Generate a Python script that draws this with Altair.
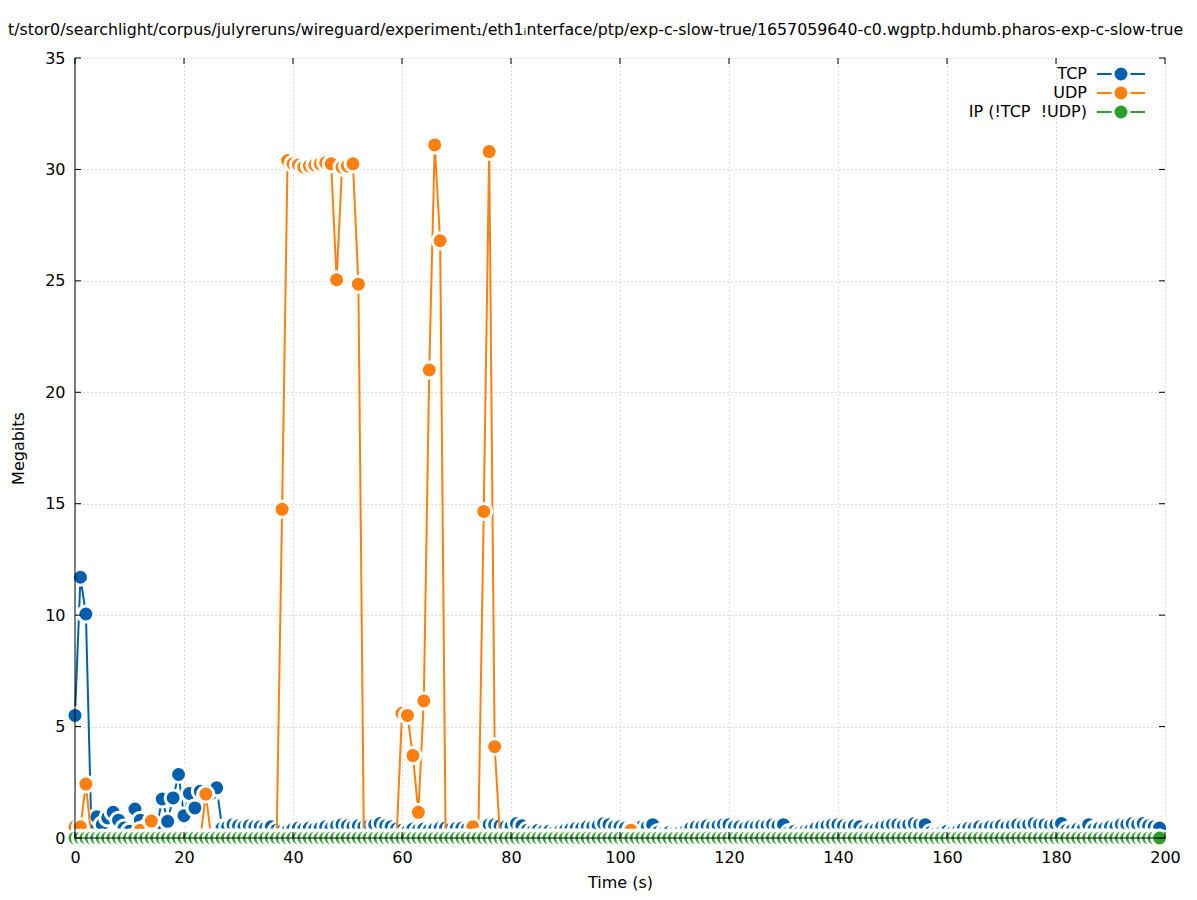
import altair as alt
import pandas as pd

# ---------------- data ----------------
seconds = list(range(200))

tcp = [
    5.5, 11.7, 10.05, 0.45, 0.95, 0.6, 0.9, 1.15, 0.8, 0.45,
    0.3, 1.3, 0.8, 0.45, 0.4, 0.5, 1.75, 0.75, 1.8, 2.85,
    1.0, 2.0, 1.35, 2.1, 1.9, 2.0, 2.25, 0.45, 0.5, 0.6,
    0.55, 0.5, 0.55, 0.5, 0.5, 0.45, 0.5, 0.35, 0.3, 0.3,
    0.4, 0.45, 0.4, 0.45, 0.4, 0.45, 0.5, 0.45, 0.55, 0.6,
    0.55, 0.5, 0.55, 0.5, 0.55, 0.6, 0.65, 0.55, 0.5, 0.4,
    0.35, 0.3, 0.4, 0.35, 0.4, 0.35, 0.4, 0.45, 0.45, 0.4,
    0.45, 0.45, 0.4, 0.35, 0.4, 0.5, 0.6, 0.6, 0.55, 0.5,
    0.5, 0.65, 0.55, 0.35, 0.3, 0.35, 0.3, 0.3, 0.25, 0.3,
    0.35, 0.4, 0.45, 0.45, 0.5, 0.5, 0.55, 0.65, 0.6, 0.5,
    0.5, 0.45, 0.4, 0.45, 0.5, 0.5, 0.6, 0.25, 0.2, 0.25,
    0.2, 0.25, 0.3, 0.45, 0.5, 0.5, 0.55, 0.5, 0.55, 0.6,
    0.6, 0.5, 0.5, 0.45, 0.5, 0.5, 0.55, 0.55, 0.6, 0.55,
    0.6, 0.25, 0.3, 0.25, 0.3, 0.35, 0.45, 0.5, 0.55, 0.6,
    0.6, 0.55, 0.5, 0.55, 0.5, 0.35, 0.4, 0.4, 0.5, 0.55,
    0.6, 0.6, 0.55, 0.6, 0.65, 0.6, 0.6, 0.25, 0.2, 0.25,
    0.3, 0.25, 0.3, 0.4, 0.45, 0.45, 0.5, 0.45, 0.5, 0.5,
    0.55, 0.5, 0.55, 0.6, 0.55, 0.6, 0.65, 0.6, 0.6, 0.55,
    0.6, 0.65, 0.35, 0.35, 0.4, 0.4, 0.6, 0.4, 0.45, 0.45,
    0.5, 0.5, 0.6, 0.6, 0.65, 0.6, 0.65, 0.55, 0.5, 0.45,
]

udp = [
    0.5, 0.5, 2.42, 0, 0, 0, 0, 0, 0, 0,
    0, 0, 0.35, 0, 0.76, 0, 0, 0, 0, 0,
    0, 0, 0, 0, 1.97, 0, 0, 0, 0, 0,
    0, 0, 0, 0, 0, 0, 0, 0, 14.75, 30.4,
    30.25, 30.2, 30.1, 30.15, 30.2, 30.25, 30.3, 30.25, 25.05, 30.1,
    30.15, 30.25, 24.85, 0, 0, 0, 0, 0, 0, 0,
    5.6, 5.5, 3.7, 1.15, 6.15, 21.0, 31.1, 26.8, 0, 0,
    0, 0, 0, 0.5, 0.05, 14.65, 30.8, 4.1, 0, 0,
    0, 0, 0, 0, 0, 0, 0, 0, 0, 0,
    0, 0, 0, 0, 0, 0, 0, 0, 0, 0,
    0, 0, 0.35, 0, 0, 0, 0, 0, 0, 0,
    0, 0, 0, 0, 0, 0, 0, 0, 0, 0,
    0, 0, 0, 0, 0, 0, 0, 0, 0, 0,
    0, 0, 0, 0, 0, 0, 0, 0, 0, 0,
    0, 0, 0, 0, 0, 0, 0, 0, 0, 0,
    0, 0, 0, 0, 0, 0, 0, 0, 0, 0,
    0, 0, 0, 0, 0, 0, 0, 0, 0, 0,
    0, 0, 0, 0, 0, 0, 0, 0, 0, 0,
    0, 0, 0, 0, 0, 0, 0, 0, 0, 0,
    0, 0, 0, 0, 0, 0, 0, 0, 0, 0,
]

ip_other = [
    0, 0, 0, 0, 0, 0, 0, 0, 0, 0,
    0, 0, 0, 0, 0, 0, 0, 0, 0, 0,
    0, 0, 0, 0, 0, 0, 0, 0, 0, 0,
    0, 0, 0, 0, 0, 0, 0, 0, 0, 0,
    0, 0, 0, 0, 0, 0, 0, 0, 0, 0,
    0, 0, 0, 0, 0, 0, 0, 0, 0, 0,
    0, 0, 0, 0, 0, 0, 0, 0, 0, 0,
    0, 0, 0, 0, 0, 0, 0, 0, 0, 0,
    0, 0, 0, 0, 0, 0, 0, 0, 0, 0,
    0, 0, 0, 0, 0, 0, 0, 0, 0, 0,
    0, 0, 0, 0, 0, 0, 0, 0, 0, 0,
    0, 0, 0, 0, 0, 0, 0, 0, 0, 0,
    0, 0, 0, 0, 0, 0, 0, 0, 0, 0,
    0, 0, 0, 0, 0, 0, 0, 0, 0, 0,
    0, 0, 0, 0, 0, 0, 0, 0, 0, 0,
    0, 0, 0, 0, 0, 0, 0, 0, 0, 0,
    0, 0, 0, 0, 0, 0, 0, 0, 0, 0,
    0, 0, 0, 0, 0, 0, 0, 0, 0, 0,
    0, 0, 0, 0, 0, 0, 0, 0, 0, 0,
    0, 0, 0, 0, 0, 0, 0, 0, 0, 0,
]

series_names = ["TCP", "UDP", "IP (!TCP\u00a0\u00a0!UDP)"]
series_colors = ["#0060ad", "#ff7f0e", "#2ca02c"]
series_values = [tcp, udp, ip_other]

x_ticks = [0, 20, 40, 60, 80, 100, 120, 140, 160, 180, 200]
y_ticks = [0, 5, 10, 15, 20, 25, 30, 35]

title_text = ("t/stor0/searchlight/corpus/julyreruns/wireguard/experiment\u2081/eth1\u1d62nterface/ptp/"
              "exp-c-slow-true/1657059640-c0.wgptp.hdumb.pharos-exp-c-slow-true")

# ---------------- layout ----------------
W, H = 1090, 780
FONT = "DejaVu Sans"
FS = 16
x_scale = alt.Scale(domain=[0, 200], nice=False, zero=False)
y_scale = alt.Scale(domain=[0, 35], nice=False)

POINT_SIZE = 256
HALO = 3

x_axis = alt.Axis(values=x_ticks, grid=True, gridDash=[1, 3], gridColor="#b8b8b8",
                  domain=False, ticks=False, labelFontSize=FS, labelFont=FONT,
                  labelColor="black", labelPadding=11, labelFlush=False,
                  title="Time (s)", titleFont=FONT, titleFontSize=FS,
                  titleFontWeight="normal", titleColor="black",
                  titleX=545, titleY=49, titleBaseline="alphabetic")
y_axis = alt.Axis(values=y_ticks, grid=True, gridDash=[1, 3], gridColor="#b8b8b8",
                  domain=False, ticks=False, labelFontSize=FS, labelFont=FONT,
                  labelColor="black", labelPadding=10,
                  title="Megabits", titleFont=FONT, titleFontSize=FS,
                  titleFontWeight="normal", titleColor="black",
                  titleX=-57, titleY=390, titleBaseline="middle", titleAngle=270)


def X(field):
    return alt.X(field, scale=x_scale, axis=x_axis)


def Y(field):
    return alt.Y(field, scale=y_scale, axis=y_axis)


layers = []
for name, vals, color in zip(series_names, series_values, series_colors):
    df = pd.DataFrame({"t": seconds, "v": vals})
    base = alt.Chart(df)
    line = base.mark_line(color=color, strokeWidth=2).encode(
        x=X("t:Q"), y=Y("v:Q"), order="t:Q")
    pts = base.mark_point(shape="circle", filled=True, fill=color, stroke="white",
                          strokeWidth=HALO, size=POINT_SIZE, opacity=1,
                          fillOpacity=1, strokeOpacity=1).encode(
        x=X("t:Q"), y=Y("v:Q"))
    layers += [line, pts]

# ---------------- tick marks (inward, mirrored) ----------------
xt = alt.Chart(pd.DataFrame({"t": x_ticks}))
yt = alt.Chart(pd.DataFrame({"v": y_ticks}))
TL = 6
tick_bottom = xt.mark_rule(color="black", strokeWidth=1).encode(
    x=X("t:Q"), y=alt.value(H), y2=alt.value(H - TL))
tick_top = xt.mark_rule(color="black", strokeWidth=1).encode(
    x=X("t:Q"), y=alt.value(0), y2=alt.value(TL))
tick_left = yt.mark_rule(color="black", strokeWidth=1).encode(
    y=Y("v:Q"), x=alt.value(0), x2=alt.value(TL))
tick_right = yt.mark_rule(color="black", strokeWidth=1).encode(
    y=Y("v:Q"), x=alt.value(W - TL), x2=alt.value(W))

one = alt.Chart(pd.DataFrame({"a": [0]}))
border_left = one.mark_rule(color="black", strokeWidth=1).encode(
    x=alt.value(0), y=alt.value(0), y2=alt.value(H))
border_bottom = one.mark_rule(color="black", strokeWidth=1).encode(
    x=alt.value(0), x2=alt.value(W), y=alt.value(H))

# ---------------- legend (gnuplot style key) ----------------
px_x = 200 / W
px_y = 35 / H
key_rows = []
for i, (name, color) in enumerate(zip(series_names, series_colors)):
    key_rows.append({"name": name, "color": color,
                     "v": 35 - (16 + 19 * i) * px_y,
                     "t": 1012 * px_x, "l2": 1070 * px_x,
                     "l1": 1022 * px_x, "pt": 1046 * px_x})
key = alt.Chart(pd.DataFrame(key_rows))
key_text = key.mark_text(align="right", baseline="middle", fontSize=FS, font=FONT,
                         color="black").encode(
    x=X("t:Q"), y=Y("v:Q"), text="name:N")
key_line = key.mark_rule(strokeWidth=2).encode(
    x=X("l1:Q"), x2="l2:Q", y=Y("v:Q"),
    color=alt.Color("color:N", scale=None, legend=None))
key_pt = key.mark_point(shape="circle", filled=True, stroke="white", strokeWidth=HALO,
                        size=POINT_SIZE, opacity=1, fillOpacity=1,
                        strokeOpacity=1).encode(
    x=X("pt:Q"), y=Y("v:Q"),
    fill=alt.Fill("color:N", scale=None, legend=None))

title_mark = one.mark_text(align="left", baseline="middle", fontSize=15.8, font=FONT,
                           color="black").encode(
    x=alt.value(-67), y=alt.value(-28), text=alt.value(title_text))

chart = alt.layer(
    *layers,
    tick_bottom, tick_top, tick_left, tick_right,
    border_left, border_bottom,
    key_line, key_pt, key_text,
    title_mark,
).properties(width=W, height=H).configure(
    autosize=alt.AutoSizeParams(type="none"),
    padding={"left": 67, "top": 50, "right": 24, "bottom": 53},
    font=FONT,
).configure_view(stroke=None)

chart.save("out.html", embed_options={"renderer": "svg", "actions": False})
